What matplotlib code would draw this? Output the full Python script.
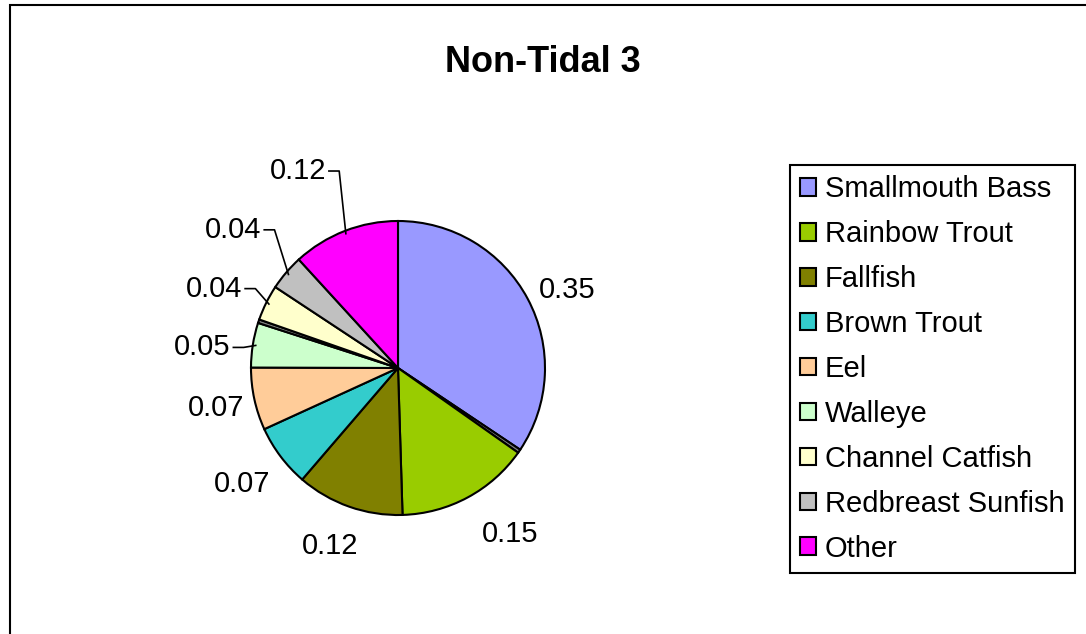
import matplotlib.pyplot as plt
import numpy as np
from matplotlib.patches import Rectangle

plt.rcParams['font.family'] = ['Liberation Sans', 'DejaVu Sans']

species = ["Smallmouth Bass", "", "Rainbow Trout", "Fallfish", "Brown Trout", "Eel",
           "Walleye", "", "Channel Catfish", "Redbreast Sunfish", "Other"]
shares = [0.35, 0.004, 0.15, 0.12, 0.07, 0.07, 0.05, 0.004, 0.04, 0.04, 0.12]
colors = ["#9999ff", "#808080", "#99cc00", "#808000", "#33cccc", "#ffcc99",
          "#ccffcc", "#808080", "#ffffcc", "#c0c0c0", "#ff00ff"]

W, H = 1086, 634
fig = plt.figure(figsize=(W / 100, H / 100), dpi=100)

# outer chart frame
fig.patches.append(Rectangle((10 / W, -0.05), 1.2, 1 - 5 / H + 0.05, transform=fig.transFigure,
                             fill=False, edgecolor="black", linewidth=1.5))

fig.text(0.5, 1 - 63 / H, "Non-Tidal 3", ha="center", va="center",
         fontsize=26, fontweight="bold")

cx, cy, R = 398, 368, 147
lim = 1.6
size = 2 * lim * R
ax = fig.add_axes([(cx - size / 2) / W, (H - cy - size / 2) / H, size / W, size / H])
wedges, _ = ax.pie(shares, colors=colors, startangle=90, counterclock=False,
                   wedgeprops=dict(edgecolor="black", linewidth=1.5))
ax.set_xlim(-lim, lim)
ax.set_ylim(-lim, lim)
ax.set_aspect("equal")
ax.axis("off")

# label placement (axes units, pie radius = 1)
centred = {"Smallmouth Bass": (1.15, 0.53), "Rainbow Trout": (0.76, -1.13),
           "Fallfish": (-0.46, -1.21), "Brown Trout": (-1.06, -0.79),
           "Eel": (-1.24, -0.27)}
leader = {"Walleye": (-1.14, 0.14), "Channel Catfish": (-1.06, 0.54),
          "Redbreast Sunfish": (-0.93, 0.94), "Other": (-0.49, 1.34)}
for w, name, v in zip(wedges, species, shares):
    if not name:
        continue
    mid = np.deg2rad((w.theta1 + w.theta2) / 2)
    px, py = np.cos(mid), np.sin(mid)
    txt = f"{v:.2f}"
    if name in leader:
        lx, ly = leader[name]
        ax.text(lx, ly, txt, ha="right", va="center", fontsize=21)
        ax.plot([lx + 0.02, lx + 0.09, px * 0.98], [ly, ly, py * 0.98], color="black", lw=1.2)
    else:
        tx, ty = centred[name]
        ax.text(tx, ty, txt, ha="center", va="center", fontsize=21)

handles = [w for w, n in zip(wedges, species) if n]
labels = [n for n in species if n]
leg = fig.legend(handles, labels, loc="upper left", bbox_to_anchor=(790 / W, 1 - 165 / H),
                 fontsize=21, frameon=True, fancybox=False, framealpha=1,
                 handlelength=0.55, handleheight=0.55,
                 handletextpad=0.3, labelspacing=0.58, borderpad=0.35, borderaxespad=0)
leg.get_frame().set_edgecolor("black")
leg.get_frame().set_linewidth(1.5)

fig.savefig("out.png", dpi=100)
